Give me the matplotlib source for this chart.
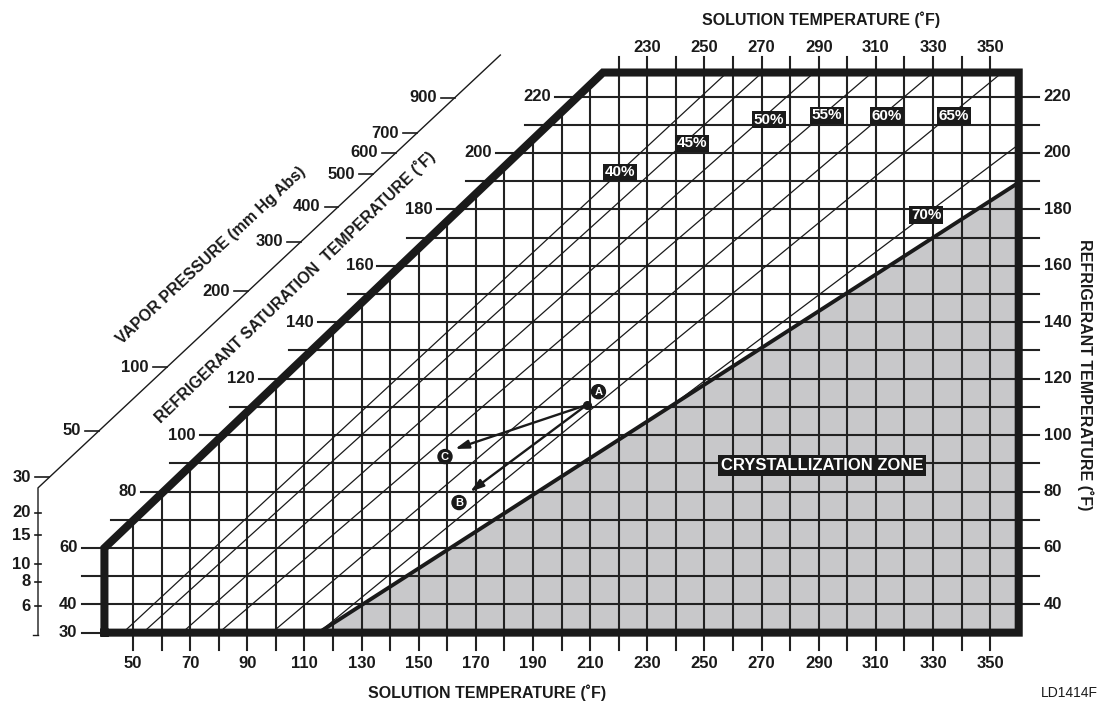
import matplotlib
matplotlib.use('Agg')
import matplotlib.pyplot as plt
from matplotlib.patches import Polygon

plt.rcParams['font.family'] = ['Liberation Sans', 'DejaVu Sans']

# --- data (deg F) ---
sol_ticks = list(range(50, 351, 20))       # bottom axis labels
top_ticks = list(range(230, 351, 20))      # top axis labels
ref_ticks = list(range(40, 221, 20))       # refrigerant temp labels
grid_x = list(range(50, 351, 10))
grid_y = list(range(30, 221, 10))

# chart outline: (solution temp, refrigerant temp)
outline_x = [40, 40, 214.5, 360, 360, 40]
outline_y = [30, 60, 228.5, 228.5, 30, 30]

# concentration lines (start / end points)
conc_labels = ['40%', '45%', '50%', '55%', '60%', '65%', '70%']
conc_x0 = [46.5, 53.5, 67.2, 80.1, 98.6, 115.0, 239.5]
conc_y0 = [30, 30, 30, 30, 30, 30, 111.2]
conc_x1 = [257.9, 270.2, 288.4, 308.7, 330.0, 354.2, 360]
conc_y1 = [228.5, 228.5, 228.5, 228.5, 228.5, 228.5, 203]
lab_x = [220.5, 245.7, 272.6, 292.9, 313.9, 337.4, 327.6]
lab_y = [193.2, 203.5, 211.7, 213.4, 213.1, 213.1, 178.0]

# crystallization boundary
cryst_x = [115, 360]
cryst_y = [30, 189.5]

# vapor pressure scale (mm Hg abs) and matching saturation temps
vp_labels = ['30', '50', '100', '200', '300', '400', '500', '600', '700', '900']
vp_y = [85.0, 101.5, 124.0, 151.0, 168.5, 181.0, 192.5, 200.0, 207.0, 219.5]
low_labels = ['20', '15', '10', '8', '6']
low_y = [72.4, 64.6, 54.3, 48.0, 39.4]

# process points
pt_A = (208.8, 110.7)
pt_B = (168.0, 79.9)
pt_C = (162.7, 95.1)

# --- figure: one axes in data coords covering the whole picture ---
fig = plt.figure(figsize=(10.99, 7.02), dpi=100)
ax = fig.add_axes([0, 0, 1, 1])
ax.set_xlim(3.45, 388.1)
ax.set_ylim(5.42, 254.2)
ax.axis('off')

ink = '#1a1a1a'
tick_kw = dict(fontsize=12, fontweight='bold', color=ink)

def border_x(y):
    if y <= 60:
        return 40
    return 40 + (y - 60) * (214.5 - 40) / (228.5 - 60)

def border_y(x):
    return 60 + (x - 40) * (228.5 - 60) / (214.5 - 40)

# crystallization zone fill
ax.add_patch(Polygon([(cryst_x[0], cryst_y[0]), (cryst_x[1], cryst_y[1]), (360, 30)],
                     closed=True, fc='#c8c8ca', ec='none', zorder=1))

# vertical grid lines
for x in grid_x:
    top = 234 if x > 214.5 else border_y(x)
    ax.plot([x, x], [23.9, top], color='#222222', lw=1.5, zorder=2)

# horizontal grid lines
for y in grid_y:
    x_start = border_x(y) - 8
    x_end = 40 if y == 30 else 367
    ax.plot([x_start, x_end], [y, y], color='#222222', lw=1.5, zorder=2)
    if y in ref_ticks or y == 30:
        ax.text(x_start - 1.5, y, str(y), ha='right', va='center', **tick_kw)
    if y in ref_ticks:
        ax.text(368.8, y, str(y), ha='left', va='center', **tick_kw)

for x in sol_ticks:
    ax.text(x, 19.0, str(x), ha='center', va='center', **tick_kw)
for x in top_ticks:
    ax.text(x, 237.5, str(x), ha='center', va='center', **tick_kw)

# concentration lines
for i in range(len(conc_labels)):
    ax.plot([conc_x0[i], conc_x1[i]], [conc_y0[i], conc_y1[i]], color=ink, lw=0.9, zorder=3)
    ax.text(lab_x[i], lab_y[i], conc_labels[i], ha='center', va='center', color='white',
            fontsize=11, fontweight='bold', zorder=7,
            bbox=dict(boxstyle='square,pad=0.1', fc=ink, ec='none'))

# crystallization line and outline
ax.plot(cryst_x, cryst_y, color=ink, lw=2.8, zorder=4, solid_capstyle='butt')
ax.plot(outline_x, outline_y, color=ink, lw=5.8, zorder=5,
        solid_joinstyle='miter', solid_capstyle='projecting')

ax.text(291.2, 89.4, 'CRYSTALLIZATION ZONE', ha='center', va='center', color='white',
        fontsize=12, fontweight='bold', zorder=7,
        bbox=dict(boxstyle='square,pad=0.18', fc=ink, ec='none'))

# vapor pressure scale
vx0, vy0 = 16.75, 81.3
slope = 0.948
def diag_x(y):
    return vx0 + (y - vy0) / slope

ax.plot([vx0, vx0, diag_x(234.7)], [29.1, vy0, 234.7], color=ink, lw=1.0, zorder=3)
ax.plot([15.0, vx0], [29.1, 29.1], color=ink, lw=1.0)
for lab, y in zip(vp_labels, vp_y):
    xd = diag_x(y)
    ax.plot([xd - 4.8, xd], [y, y], color=ink, lw=1.2)
    ax.text(xd - 6.3, y, lab, ha='right', va='center', **tick_kw)
for lab, y in zip(low_labels, low_y):
    ax.plot([15.6, 17.9], [y, y], color=ink, lw=1.2)
    ax.text(14.2, y, lab, ha='right', va='center', **tick_kw)

# axis titles
title_kw = dict(fontsize=11.5, fontweight='bold', color=ink)
ax.text(173.9, 8.6, 'SOLUTION TEMPERATURE (˚F)', ha='center', va='center', **title_kw)
ax.text(290.8, 247.1, 'SOLUTION TEMPERATURE (˚F)', ha='center', va='center', **title_kw)
ax.text(383.2, 121.3, 'REFRIGERANT TEMPERATURE (˚F)', ha='center', va='center',
        rotation=-90, **title_kw)
ax.text(77.3, 163.8, 'VAPOR PRESSURE (mm Hg Abs)', ha='center', va='center',
        rotation=43, rotation_mode='anchor', **title_kw)
ax.text(106.7, 152.5, 'REFRIGERANT SATURATION  TEMPERATURE (˚F)', ha='center', va='center',
        rotation=44, rotation_mode='anchor', **title_kw)
ax.text(377.6, 8.6, 'LD1414F', ha='center', va='center', fontsize=10, color=ink)

# process arrows A -> B and A -> C
for tip in (pt_B, pt_C):
    ax.annotate('', xy=tip, xytext=pt_A, zorder=6,
                arrowprops=dict(arrowstyle='-|>,head_length=0.8,head_width=0.25', lw=1.7,
                                color=ink, shrinkA=0, shrinkB=0))
ax.plot(*pt_A, 'o', color=ink, ms=5.5, zorder=6)
circ_kw = dict(ha='center', va='center', color='white', fontsize=8, fontweight='bold', zorder=8,
               bbox=dict(boxstyle='circle,pad=0.18', fc=ink, ec=ink))
ax.text(212.9, 115.4, 'A', **circ_kw)
ax.text(164.1, 76.1, 'B', **circ_kw)
ax.text(159.2, 92.4, 'C', **circ_kw)

fig.savefig('out.png', dpi=100)
